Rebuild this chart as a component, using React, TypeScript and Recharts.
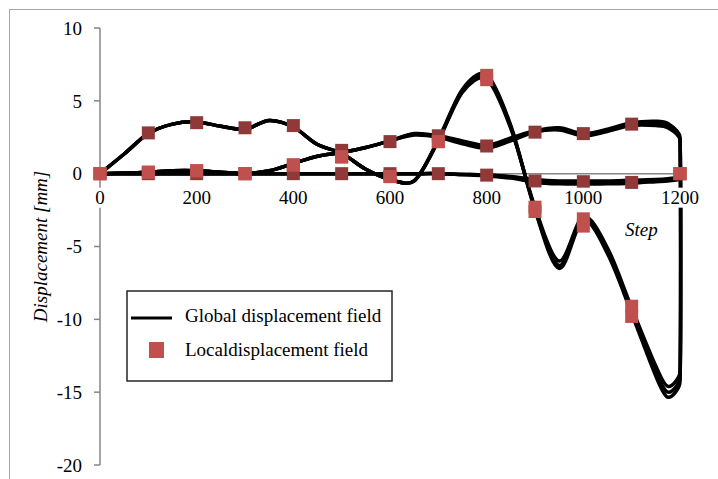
import React from 'react';
import { ComposedChart, Line, Scatter, XAxis, YAxis, Legend } from 'recharts';

// ---- data -------------------------------------------------------------

// load steps at which the global solution was sampled
const STEPS = [0, 50, 100, 150, 200, 250, 300, 350, 400, 450, 500, 550, 600, 650, 700, 750, 800, 850, 900, 950, 1000, 1050, 1100, 1150, 1175, 1200];

// global displacement field, three nodes (a, b, c), component 1
const globalU1a = [0, 0.05, 0.1, 0.2, 0.2, 0.1, 0, 0.2, 0.7, 1.2, 1.45, 1.8, 2.25, 2.7, 2.55, 2.15, 1.85, 2.35, 2.9, 3.1, 2.7, 3.0, 3.4, 3.45, 3.3, 2.4];
const globalU1b = [0, 0.05, 0.1, 0.2, 0.2, 0.1, 0, 0.2, 0.7, 1.2, 1.45, 1.8, 2.25, 2.65, 2.5, 2.05, 1.75, 2.25, 2.85, 3.0, 2.6, 2.9, 3.3, 3.3, 3.15, 2.3];
const globalU1c = [0, 0.05, 0.1, 0.2, 0.2, 0.1, 0, 0.2, 0.7, 1.2, 1.45, 1.8, 2.25, 2.75, 2.6, 2.25, 1.95, 2.45, 2.95, 3.15, 2.75, 3.05, 3.5, 3.6, 3.45, 2.5];

// component 2
const globalU2a = [0, 1.35, 2.75, 3.4, 3.55, 3.25, 3.05, 3.65, 3.2, 2.0, 1.4, 0.3, -0.4, -0.5, 2.3, 5.7, 6.7, 3.2, -2.4, -6.3, -3.1, -5.3, -9.4, -13.6, -15.0, -14.0];
const globalU2b = [0, 1.35, 2.75, 3.4, 3.55, 3.25, 3.05, 3.65, 3.2, 2.0, 1.4, 0.3, -0.4, -0.5, 2.25, 5.6, 6.5, 3.1, -2.3, -6.0, -2.95, -5.1, -9.2, -13.2, -14.6, -13.6];
const globalU2c = [0, 1.35, 2.75, 3.4, 3.55, 3.25, 3.05, 3.65, 3.2, 2.0, 1.4, 0.3, -0.4, -0.5, 2.35, 5.8, 6.8, 3.3, -2.5, -6.5, -3.2, -5.5, -9.6, -13.9, -15.35, -14.3];

// component 3
const globalU3a = [0, 0, 0, 0, 0, 0, 0, 0, 0, 0, 0, 0, 0, 0, 0, -0.05, -0.1, -0.25, -0.5, -0.6, -0.6, -0.6, -0.55, -0.45, -0.4, -0.3];
const globalU3b = [0, 0, 0, 0, 0, 0, 0, 0, 0, 0, 0, 0, 0, 0, 0, -0.05, -0.1, -0.2, -0.4, -0.5, -0.5, -0.5, -0.45, -0.4, -0.35, -0.25];
const globalU3c = [0, 0, 0, 0, 0, 0, 0, 0, 0, 0, 0, 0, 0, 0, 0, -0.05, -0.15, -0.3, -0.6, -0.7, -0.7, -0.7, -0.65, -0.55, -0.5, -0.4];

// local displacement field, evaluated every 100 steps
const LOCAL_STEPS = [0, 100, 200, 300, 400, 500, 600, 700, 800, 900, 1000, 1100, 1200];
const localA = [0, 0.1, 0.2, 0, 0.6, 1.15, -0.2, 2.2, 6.75, -2.3, -3.1, -9.1, 0];
const localB = [0, 0.1, 0.2, 0, 0.6, 1.15, -0.2, 2.2, 6.45, -2.6, -3.6, -9.8, 0];
const localC = [0, 0, 0, 0, 0, 0, 0, 0, -0.1, -0.5, -0.55, -0.6, 0];
const LOCAL_D_STEPS = [100, 200, 300, 400, 500, 600, 700, 800, 900, 1000, 1100];
const localD = [2.8, 3.5, 3.15, 3.3, 1.6, 2.2, 2.6, 1.9, 2.85, 2.75, 3.4];

// axis ticks
const X_TICKS = [0, 200, 400, 600, 800, 1000, 1200];
const Y_TICKS = [-20, -15, -10, -5, 0, 5, 10];

// ---- helpers ------------------------------------------------------------

const SERIF = '"Liberation Serif", "Times New Roman", serif';
const LIGHT_RED = '#C0504D';
const DARK_RED = '#8F3A38';
const AXIS_GREY = '#868686';

type Pt = { s: number; v: number };

const toPoints = (steps: number[], vals: number[]): Pt[] =>
  steps.map((s, i) => ({ s, v: vals[i] }));

// component 1 runs forward over the steps, then component 2 is traced back
const loopPath = (forward: number[], back: number[]): Pt[] => [
  ...toPoints(STEPS, forward),
  ...toPoints(STEPS, back).reverse(),
];

const NODES = [
  { u1: globalU1a, u2: globalU2a, u3: globalU3a },
  { u1: globalU1b, u2: globalU2b, u3: globalU3b },
  { u1: globalU1c, u2: globalU2c, u3: globalU3c },
];

const zeroLine: Pt[] = [
  { s: X_TICKS[0], v: 0 },
  { s: X_TICKS[X_TICKS.length - 1], v: 0 },
];

// spreadsheet-style smoothed line: Catmull-Rom Bezier handles, shortened
// where a segment is much longer than its neighbour (keeps sharp corners tight)
const HANDLE_CAP = 0.33;
const smoothCurve = (context: any) => {
  let xs: number[] = [];
  let ys: number[] = [];
  return {
    areaStart() {},
    areaEnd() {},
    lineStart() {
      xs = [];
      ys = [];
    },
    point(x: number, y: number) {
      xs.push(+x);
      ys.push(+y);
    },
    lineEnd() {
      const n = xs.length;
      if (n === 0) return;
      context.moveTo(xs[0], ys[0]);
      if (n === 1) return;
      const seg: number[] = [];
      for (let i = 0; i < n - 1; i++) seg.push(Math.hypot(xs[i + 1] - xs[i], ys[i + 1] - ys[i]));
      // raw Catmull-Rom handle vector at each point
      const hx: number[] = [];
      const hy: number[] = [];
      for (let i = 0; i < n; i++) {
        const a = Math.max(i - 1, 0);
        const b = Math.min(i + 1, n - 1);
        hx.push((xs[b] - xs[a]) / 6);
        hy.push((ys[b] - ys[a]) / 6);
      }
      const handle = (i: number, L: number, other: number) => {
        const len = Math.hypot(hx[i], hy[i]);
        const cap = HANDLE_CAP * Math.min(L, 3 * other);
        const f = len > cap && len > 0 ? cap / len : 1;
        return [hx[i] * f, hy[i] * f];
      };
      for (let i = 0; i < n - 1; i++) {
        const L = seg[i];
        const prev = i > 0 ? seg[i - 1] : L;
        const next = i < n - 2 ? seg[i + 1] : L;
        const [ax, ay] = handle(i, L, prev);
        const [bx, by] = handle(i + 1, L, next);
        context.bezierCurveTo(xs[i] + ax, ys[i] + ay, xs[i + 1] - bx, ys[i + 1] - by, xs[i + 1], ys[i + 1]);
      }
    },
  };
};

const squareShape = (fill: string) => (props: any) => {
  const { cx, cy } = props;
  if (cx == null || cy == null) return <g />;
  return <rect x={cx - 6.5} y={cy - 6.5} width={13} height={13} fill={fill} />;
};

// step labels sit on the zero line, on a white ground
const StepTick = (props: any) => {
  const { cx, cy, payload } = props;
  if (cx == null || cy == null) return <g />;
  const text = String(payload.s);
  const w = text.length * 9.5 + 6;
  return (
    <g>
      <rect x={cx - w / 2} y={cy + 14} width={w} height={20} fill="#fff" />
      <text x={cx} y={cy + 30.5} textAnchor="middle" fontFamily={SERIF} fontSize={19} fill="#000">
        {text}
      </text>
    </g>
  );
};

const YTitle = (props: any) => {
  const vb = props.viewBox || {};
  const x = (vb.x ?? 0) + 47;
  const y = (vb.y ?? 28) + (vb.height ?? 437) / 2;
  return (
    <text
      x={x}
      y={y}
      transform={`rotate(-90 ${x} ${y})`}
      textAnchor="middle"
      fontFamily={SERIF}
      fontStyle="italic"
      fontSize={19}
      fill="#000"
    >
      Displacement [mm]
    </text>
  );
};

const LegendBox = () => (
  <svg width={268} height={93} style={{ display: 'block' }}>
    <rect x={1} y={1} width={265} height={90} fill="#fff" stroke="#262626" strokeWidth={1.5} />
    <line x1={5} x2={46} y1={28} y2={28} stroke="#000" strokeWidth={3} />
    <text x={59} y={32} fontFamily={SERIF} fontSize={19} fill="#000">
      Global displacement field
    </text>
    <rect x={23} y={52} width={15} height={16} fill={LIGHT_RED} />
    <text x={59} y={66} fontFamily={SERIF} fontSize={19} fill="#000">
      Localdisplacement field
    </text>
  </svg>
);

const GLOBAL_STROKE = 3.5;

export default function App() {
  return (
    <div style={{ position: 'absolute', left: 0, top: 0, width: 718, height: 479, background: '#fff', overflow: 'hidden' }}>
      <div
        style={{
          position: 'absolute',
          left: 9,
          top: 9,
          width: 718,
          height: 479,
          borderLeft: '1.5px solid #a6a6a6',
          borderTop: '1.5px solid #a6a6a6',
        }}
      />
      <ComposedChart width={718} height={479} margin={{ top: 28, right: 38, bottom: 14, left: 0 }}>
        <XAxis type="number" dataKey="s" domain={[0, 1200]} ticks={X_TICKS} hide />
        <YAxis
          type="number"
          dataKey="v"
          domain={[-20, 10]}
          ticks={Y_TICKS}
          interval={0}
          width={100}
          tickSize={6}
          tickMargin={12}
          axisLine={{ stroke: AXIS_GREY, strokeWidth: 1.5 }}
          tickLine={{ stroke: AXIS_GREY, strokeWidth: 1.5 }}
          tick={{ fill: '#000', fontSize: 19, fontFamily: SERIF }}
          label={<YTitle />}
        />
        <Line
          data={zeroLine}
          dataKey="v"
          type="linear"
          stroke={AXIS_GREY}
          strokeWidth={1.5}
          dot={false}
          activeDot={false}
          isAnimationActive={false}
        />
        {NODES.map((n, i) => (
          <Line
            key={`loop-${i}`}
            data={loopPath(n.u1, n.u2)}
            dataKey="v"
            type={smoothCurve as any}
            stroke="#000"
            strokeWidth={GLOBAL_STROKE}
            dot={false}
            activeDot={false}
            isAnimationActive={false}
          />
        ))}
        {NODES.map((n, i) => (
          <Line
            key={`base-${i}`}
            data={toPoints(STEPS, n.u3)}
            dataKey="v"
            type={smoothCurve as any}
            stroke="#000"
            strokeWidth={GLOBAL_STROKE}
            dot={false}
            activeDot={false}
            isAnimationActive={false}
          />
        ))}
        <Scatter data={toPoints(LOCAL_STEPS, localC)} dataKey="v" shape={squareShape(DARK_RED)} isAnimationActive={false} />
        <Scatter data={toPoints(LOCAL_D_STEPS, localD)} dataKey="v" shape={squareShape(DARK_RED)} isAnimationActive={false} />
        <Scatter data={toPoints(LOCAL_STEPS, localB)} dataKey="v" shape={squareShape(LIGHT_RED)} isAnimationActive={false} />
        <Scatter data={toPoints(LOCAL_STEPS, localA)} dataKey="v" shape={squareShape(LIGHT_RED)} isAnimationActive={false} />
        <Scatter
          data={X_TICKS.map((s) => ({ s, v: 0 }))}
          dataKey="v"
          shape={StepTick}
          isAnimationActive={false}
        />
        <Legend
          layout="vertical"
          align="center"
          verticalAlign="middle"
          content={<LegendBox />}
          wrapperStyle={{ left: 126, top: 290, width: 268, height: 93 }}
        />
      </ComposedChart>
      <svg width={718} height={479} style={{ position: 'absolute', left: 0, top: 0, pointerEvents: 'none' }}>
        <text x={625} y={236} fontFamily={SERIF} fontStyle="italic" fontSize={19} fill="#000">
          Step
        </text>
      </svg>
    </div>
  );
}
